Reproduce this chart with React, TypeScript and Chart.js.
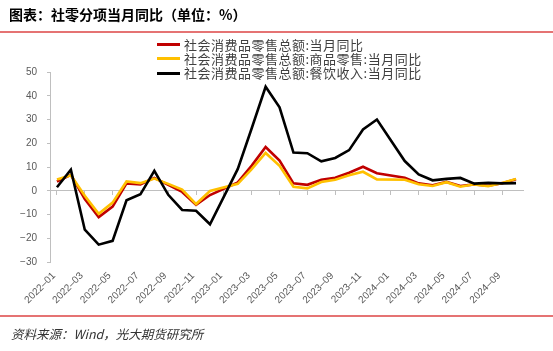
import React, { useEffect, useRef } from "react";
import { Chart, registerables } from "chart.js";

Chart.register(...registerables);

const months = [
  "2022-01", "2022-02", "2022-03", "2022-04", "2022-05", "2022-06", "2022-07", "2022-08", "2022-09", "2022-10", "2022-11", "2022-12",
  "2023-01", "2023-02", "2023-03", "2023-04", "2023-05", "2023-06", "2023-07", "2023-08", "2023-09", "2023-10", "2023-11", "2023-12",
  "2024-01", "2024-02", "2024-03", "2024-04", "2024-05", "2024-06", "2024-07", "2024-08", "2024-09", "2024-10",
];

const seriesNames = [
  "社会消费品零售总额:当月同比",
  "社会消费品零售总额:商品零售:当月同比",
  "社会消费品零售总额:餐饮收入:当月同比",
];

const seriesColors = ["#C00000", "#FFC000", "#000000"];

const totalRetail = [
  3.9, 6.7, -3.5, -11.1, -6.7, 3.1, 2.7, 5.4, 2.5, -0.5, -5.9, -1.8,
  null, 3.5, 10.6, 18.4, 12.7, 3.1, 2.5, 4.6, 5.5, 7.6, 10.1, 7.4,
  null, 5.5, 3.1, 2.3, 3.7, 2.0, 2.7, 2.1, 3.2, 4.8,
];

const goodsRetail = [
  4.7, 6.5, -2.1, -9.7, -5.0, 3.9, 3.2, 5.1, 2.9, 0.5, -5.6, -0.1,
  null, 2.9, 9.1, 15.9, 10.5, 1.7, 1.0, 3.7, 4.6, 6.5, 8.0, 4.8,
  null, 4.6, 2.7, 2.0, 3.6, 1.7, 2.7, 1.9, 3.3, 5.0,
];

const catering = [
  1.5, 8.9, -16.4, -22.7, -21.1, -4.0, -1.5, 8.4, -1.7, -8.1, -8.4, -14.1,
  null, 9.2, 26.3, 43.8, 35.1, 16.1, 15.8, 12.4, 13.8, 17.1, 25.8, 30.0,
  null, 12.5, 6.9, 4.4, 5.0, 5.4, 3.0, 3.3, 3.1, 3.2,
];

const yMin = -30;
const yMax = 50;
const yStep = 10;

const titleText = "图表：社零分项当月同比（单位：%）";
const sourceText = "资料来源：Wind，光大期货研究所";

export default function App() {
  const ref = useRef<HTMLCanvasElement>(null);

  useEffect(() => {
    const axisGray = "#bfbfbf";
    const labelGray = "#595959";
    const seriesData = [totalRetail, goodsRetail, catering];
    const orders = [3, 2, 1];
    const chart = new Chart(ref.current as HTMLCanvasElement, {
      type: "line",
      data: {
        labels: months,
        datasets: seriesNames.map((name, i) => ({
          label: name,
          data: seriesData[i],
          borderColor: seriesColors[i],
          backgroundColor: seriesColors[i],
          borderWidth: 2.6,
          pointRadius: 0,
          tension: 0,
          spanGaps: true,
          order: orders[i],
          xAxisID: "x",
          yAxisID: "y",
        })),
      },
      options: {
        animation: false,
        responsive: false,
        maintainAspectRatio: false,
        layout: { padding: { left: 0, top: 72, right: 30, bottom: 0 } },
        plugins: {
          legend: { display: false },
          tooltip: { enabled: false },
        },
        scales: {
          x: {
            type: "category",
            position: "bottom",
            offset: true,
            grid: { display: false, drawTicks: false },
            border: { display: false },
            ticks: {
              autoSkip: false,
              maxRotation: 45,
              minRotation: 45,
              padding: 8,
              labelOffset: -3,
              color: labelGray,
              font: { family: "Liberation Sans", size: 10 },
              callback: (_v: any, i: number) => (i % 2 === 0 ? months[i].replace("-", "–") : ""),
            },
            afterFit: (s: any) => {
              s.height = 89;
            },
          },
          x2: {
            type: "category",
            axis: "x",
            position: { y: 0 },
            offset: true,
            ticks: { display: false },
            grid: {
              drawOnChartArea: false,
              drawTicks: true,
              tickLength: 4,
              lineWidth: 1,
              color: (c: any) => (c.index % 2 === 0 ? axisGray : "rgba(0,0,0,0)"),
            },
            border: { display: true, color: axisGray, width: 1 },
          },
          y: {
            type: "linear",
            position: "left",
            min: yMin,
            max: yMax,
            ticks: {
              stepSize: yStep,
              padding: 10,
              color: labelGray,
              font: { family: "Liberation Sans", size: 10 },
              callback: (v: any) => (Number(v) < 0 ? "−" + Math.abs(Number(v)) : String(v)),
            },
            grid: { drawOnChartArea: false, drawTicks: true, tickLength: 3, color: axisGray },
            border: { display: true, color: axisGray, width: 1 },
            afterFit: (s: any) => {
              s.width = 50;
            },
          },
        },
      } as any,
    });
    return () => chart.destroy();
  }, []);

  const legendTops = [44.5, 58.8, 73];

  return (
    <div style={{ position: "fixed", left: 0, top: 0, width: 553, height: 351, background: "#fff", overflow: "hidden" }}>
      <canvas ref={ref} width={553} height={351} style={{ position: "absolute", left: 0, top: 0, width: 553, height: 351 }} />
      <div
        style={{
          position: "absolute",
          left: 9,
          top: 5,
          fontFamily: "'Noto Sans CJK SC'",
          fontWeight: 700,
          fontSize: 14,
          lineHeight: "19px",
          color: "#000",
          whiteSpace: "nowrap",
        }}
      >
        {titleText}
      </div>
      <div style={{ position: "absolute", left: 0, top: 31, width: 553, height: 2, background: "#e57373" }} />
      {seriesNames.map((name, i) => (
        <div
          key={name}
          style={{
            position: "absolute",
            left: 157,
            top: legendTops[i] - 8,
            height: 16,
            display: "flex",
            alignItems: "center",
            whiteSpace: "nowrap",
          }}
        >
          <span style={{ display: "inline-block", width: 23, height: 3, background: seriesColors[i], marginRight: 4 }} />
          <span
            style={{
              fontFamily: "'Noto Sans CJK SC'",
              fontSize: 13,
              letterSpacing: "0.5px",
              lineHeight: "16px",
              color: "#404040",
            }}
          >
            {name}
          </span>
        </div>
      ))}
      <div style={{ position: "absolute", left: 0, top: 315, width: 553, height: 2, background: "#e57373" }} />
      <div
        style={{
          position: "absolute",
          left: 11,
          top: 325,
          fontFamily: "'Noto Sans CJK SC'",
          fontStyle: "italic",
          fontSize: 12.5,
          lineHeight: "17px",
          color: "#333",
          whiteSpace: "nowrap",
        }}
      >
        {sourceText}
      </div>
    </div>
  );
}
